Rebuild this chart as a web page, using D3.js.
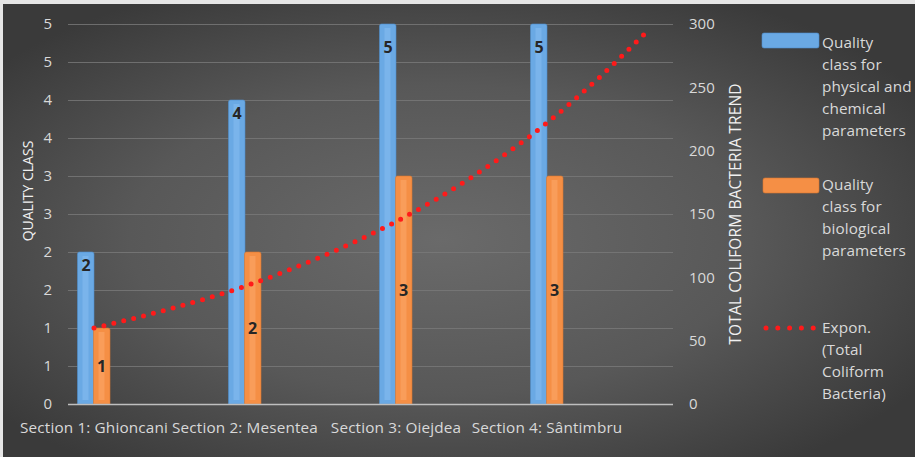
<!DOCTYPE html>
<html><head><meta charset="utf-8">
<script src="https://cdn.jsdelivr.net/npm/d3@7/dist/d3.min.js"></script>
<style>html,body{margin:0;padding:0;background:#e6e6e6;overflow:hidden}</style>
</head><body>
<svg id="c" width="915" height="457"></svg>
<script>
const categories = ["Section 1: Ghioncani", "Section 2: Mesentea", "Section 3: Oiejdea", "Section 4:  Sântimbru"];
const physChemClass = [2, 4, 5, 5];
const biologicalClass = [1, 2, 3, 3];
// exponential trend of total coliform bacteria at positions along the category axis
const trendPos = [0, 0.5, 1, 1.5, 2, 2.5, 3, 3.33, 3.67];
const trendValues = [60, 75, 93, 116, 144, 179, 222, 256, 295];
const leftTicks = [0, 0.5, 1, 1.5, 2, 2.5, 3, 3.5, 4, 4.5, 5];
const leftTickLabels = ["0", "1", "1", "2", "2", "3", "3", "4", "4", "5", "5"];
const rightTicks = [0, 50, 100, 150, 200, 250, 300];
const legendLabels = [
  ["Quality", "class for", "physical and", "chemical", "parameters"],
  ["Quality", "class for", "biological", "parameters"],
  ["Expon.", "(Total", "Coliform", "Bacteria)"]
];

const svg = d3.select("#c");
const FONT = "'Open Sans', Lato, sans-serif";
const defs = svg.append("defs");
const rg = defs.append("radialGradient").attr("id", "bg").attr("cx", "48%").attr("cy", "52%").attr("r", "62%");
rg.append("stop").attr("offset", "0%").attr("stop-color", "#6a6a6a");
rg.append("stop").attr("offset", "55%").attr("stop-color", "#585858");
rg.append("stop").attr("offset", "100%").attr("stop-color", "#3a3a3a");
svg.append("rect").attr("x", 3).attr("y", 4).attr("width", 912).attr("height", 453).attr("fill", "url(#bg)");

const plotL = 68, plotR = 673, plotTop = 24, base = 404;
const y = d3.scaleLinear().domain([0, 5]).range([base, plotTop]);
const yR = d3.scaleLinear().domain([0, 300]).range([base, plotTop]);
const x0 = d3.scaleBand().domain(categories).range([18.5, 622.5]).paddingInner(0);
const center = c => x0(c) + x0.bandwidth() / 2;
const xT = d3.scaleLinear().domain([0, 1]).range([center(categories[0]), center(categories[1])]);

// gridlines
svg.append("g").selectAll("line").data(leftTicks.filter(d => d > 0)).join("line")
  .attr("x1", plotL).attr("x2", plotR).attr("y1", d => Math.round(y(d)) + 0.5).attr("y2", d => Math.round(y(d)) + 0.5)
  .attr("stroke", "#7a7a7a").attr("stroke-width", 1).attr("opacity", 0.8);

// left axis labels
svg.append("g").selectAll("text").data(leftTicks).join("text")
  .attr("x", 52).attr("y", d => y(d)).attr("dy", "0.35em").attr("text-anchor", "end")
  .attr("font-family", FONT).attr("font-size", 15).attr("fill", "#d9d9d9")
  .text((d, i) => leftTickLabels[i]);
svg.append("text").attr("transform", `translate(33,191) rotate(-90)`).attr("text-anchor", "middle")
  .attr("font-family", FONT).attr("font-size", 14).attr("fill", "#f0f0f0").text("QUALITY CLASS");

// right axis labels
svg.append("g").selectAll("text").data(rightTicks).join("text")
  .attr("x", 689).attr("y", d => yR(d)).attr("dy", "0.35em").attr("text-anchor", "start")
  .attr("font-family", FONT).attr("font-size", 15).attr("fill", "#d9d9d9").text(d => d);
svg.append("text").attr("transform", `translate(741,214) rotate(-90)`).attr("text-anchor", "middle")
  .attr("font-family", FONT).attr("font-size", 15.5).attr("letter-spacing", 0.15).attr("fill", "#f0f0f0").text("TOTAL COLIFORM BACTERIA TREND");

// bars
const bw = 16.5;
const series = [
  {vals: physChemClass, off: -16.5, fill: "#6aa9e4", hi: "#86bdf0", edge: "#4f8fcc"},
  {vals: biologicalClass, off: -0.5, fill: "#f58f45", hi: "#fbaa6c", edge: "#d9772f"}
];
series.forEach((s, si) => {
  const g = svg.append("g");
  categories.forEach((c, i) => {
    const v = Math.min(s.vals[i], 5);
    const bx = center(c) + s.off, by = y(v), h = base - by;
    g.append("path").attr("d", `M${bx},${base}V${by + 2}Q${bx},${by} ${bx + 2},${by}H${bx + bw - 2}Q${bx + bw},${by} ${bx + bw},${by + 2}V${base}Z`)
      .attr("fill", s.fill).attr("stroke", s.edge).attr("stroke-width", 0.6);
    g.append("rect").attr("x", bx + 5).attr("y", by + 4).attr("width", 6).attr("height", Math.max(0, h - 8))
      .attr("fill", s.hi).attr("opacity", 0.55);
  });
});
// data labels
categories.forEach((c, i) => {
  const v = physChemClass[i];
  const ly = v >= 5 ? y(5) + 23 : y(v) + 13;
  svg.append("text").attr("x", center(c) - 8).attr("y", ly).attr("dy", "0.35em").attr("text-anchor", "middle")
    .attr("font-family", FONT).attr("font-weight", "bold").attr("font-size", 16).attr("fill", "#262626").text(v);
  const b = biologicalClass[i];
  svg.append("text").attr("x", center(c) + 7.5).attr("y", (y(b) + base) / 2).attr("dy", "0.35em").attr("text-anchor", "middle")
    .attr("font-family", FONT).attr("font-weight", "bold").attr("font-size", 16).attr("fill", "#262626").text(b);
});

// baseline
svg.append("line").attr("x1", plotL).attr("x2", plotR).attr("y1", base + 0.5).attr("y2", base + 0.5)
  .attr("stroke", "#bfbfbf").attr("stroke-width", 1.5);

// trend line
const tl = d3.line().x((d, i) => xT(trendPos[i])).y(d => yR(d)).curve(d3.curveMonotoneX);
svg.append("path").attr("d", tl(trendValues)).attr("fill", "none").attr("stroke", "#ff1a1a")
  .attr("stroke-width", 5).attr("stroke-linecap", "round").attr("stroke-dasharray", "0 10.2");

// category labels
svg.append("g").selectAll("text").data(categories).join("text")
  .attr("x", d => center(d)).attr("y", 428).attr("dy", "0.35em").attr("text-anchor", "middle")
  .attr("font-family", FONT).attr("font-size", 15.3).attr("letter-spacing", 0.15).attr("fill", "#d9d9d9").text(d => d);

// legend
const lg = svg.append("g");
const lgTops = [43, 185, 328];
const lh = 22;
lg.append("rect").attr("x", 762).attr("y", 33).attr("width", 57).attr("height", 15).attr("rx", 2).attr("fill", "#6aa9e4").attr("stroke", "#4f8fcc").attr("stroke-width", 0.6);
lg.append("rect").attr("x", 763).attr("y", 178).attr("width", 56).attr("height", 15).attr("rx", 2).attr("fill", "#f58f45").attr("stroke", "#d9772f").attr("stroke-width", 0.6);
lg.append("line").attr("x1", 766).attr("x2", 814).attr("y1", 328).attr("y2", 328).attr("stroke", "#ff1a1a")
  .attr("stroke-width", 5).attr("stroke-linecap", "round").attr("stroke-dasharray", "0 11.8");
legendLabels.forEach((lines, k) => {
  lines.forEach((t, j) => {
    lg.append("text").attr("x", 822).attr("y", lgTops[k] + j * lh).attr("dy", "0.35em")
      .attr("font-family", FONT).attr("font-size", 15.3).attr("letter-spacing", 0.1).attr("fill", "#d9d9d9").text(t);
  });
});
</script>
</body></html>
